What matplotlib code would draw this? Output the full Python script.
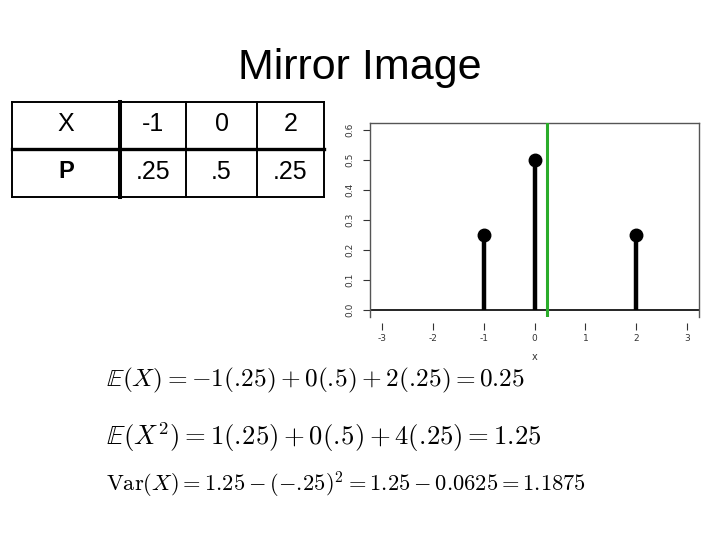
import matplotlib
matplotlib.use("Agg")
import matplotlib.pyplot as plt

# distribution
xs = [-1, 0, 2]
probs = [0.25, 0.5, 0.25]
x_labels = ["-1", "0", "2"]
p_labels = [".25", ".5", ".25"]
mean_x = 0.25
x_ticks = [-3, -2, -1, 0, 1, 2, 3]
y_ticks = [0.0, 0.1, 0.2, 0.3, 0.4, 0.5, 0.6]

plt.rcParams["mathtext.fontset"] = "cm"
fig = plt.figure(figsize=(7.2, 5.4), dpi=100)

# page overlay in pixel coordinates
pg = fig.add_axes([0, 0, 1, 1])
pg.set_xlim(0, 720); pg.set_ylim(540, 0); pg.axis("off")

pg.text(360, 68, "Mirror Image", ha="center", va="center", fontsize=31,
        family="Liberation Sans")

# table
cols = [12, 120, 186, 257, 324]
rows = [102, 149, 197]
for y in rows:
    lw = 2.4 if y == rows[1] else 1.4
    pg.plot([cols[0], cols[-1]], [y, y], color="black", lw=lw,
            solid_capstyle="projecting")
for x in cols:
    lw = 2.9 if x == cols[1] else 1.4
    pg.plot([x, x], [rows[0], rows[-1]], color="black", lw=lw,
            solid_capstyle="projecting")
centers = [(cols[i] + cols[i + 1]) / 2 for i in range(4)]
pg.text(centers[0], 124, "X", ha="center", va="center", fontsize=18,
        family="Liberation Sans")
pg.text(centers[0], 172, "P", ha="center", va="center", fontsize=17,
        family="Liberation Sans", fontweight="bold")
for c, xl, pl in zip(centers[1:], x_labels, p_labels):
    pg.text(c, 124, xl, ha="center", va="center", fontsize=18, family="Liberation Sans")
    pg.text(c, 172, pl, ha="center", va="center", fontsize=18, family="Liberation Sans")

# equations
D = r".\!"  # decimal point without the punctuation space
pg.text(106, 380, rf"$\mathbb{{E}}(X) = -1({D}25) + 0({D}5) + 2({D}25) = 0.25$",
        ha="left", va="center", fontsize=18.2)
pg.text(106, 437, rf"$\mathbb{{E}}(X^2) = 1({D}25) + 0({D}5) + 4({D}25) = 1.25$",
        ha="left", va="center", fontsize=19.2)
pg.text(106, 485, rf"$\mathrm{{Var}}(X) = 1.25 - (-{D}25)^2 = 1.25 - 0.0625 = 1.1875$",
        ha="left", va="center", fontsize=16.2)

# pmf plot
ax = fig.add_axes([0.514, 0.413, 0.457, 0.359])
ax.vlines(xs, 0, probs, color="black", lw=3.2, zorder=3)
ax.plot(xs, probs, "o", color="black", ms=9, zorder=4)
ax.axhline(0, color="black", lw=1.2)
ax.axvline(mean_x, color="#2aac2a", lw=2.2, zorder=5)
ax.set_xlim(-3.24, 3.24)
ax.set_ylim(-0.024, 0.624)
ax.set_xticks(x_ticks)
ax.set_xticklabels([str(t) for t in x_ticks])
ax.set_yticks(y_ticks)
ax.set_yticklabels([f"{t:.1f}" for t in y_ticks], rotation=90, va="center")
ax.tick_params(axis="both", labelsize=6.5, colors="#333333", length=5, width=0.8)
ax.tick_params(axis="y", pad=6)
ax.spines["bottom"].set_position(("outward", 4))
ax.spines["bottom"].set_visible(False)
for s in ["top", "left", "right"]:
    ax.spines[s].set_color("#555555")
    ax.spines[s].set_linewidth(1)
ax.set_xlabel("x", fontsize=7, labelpad=6, color="#333333")

fig.savefig("out.png", dpi=100)
